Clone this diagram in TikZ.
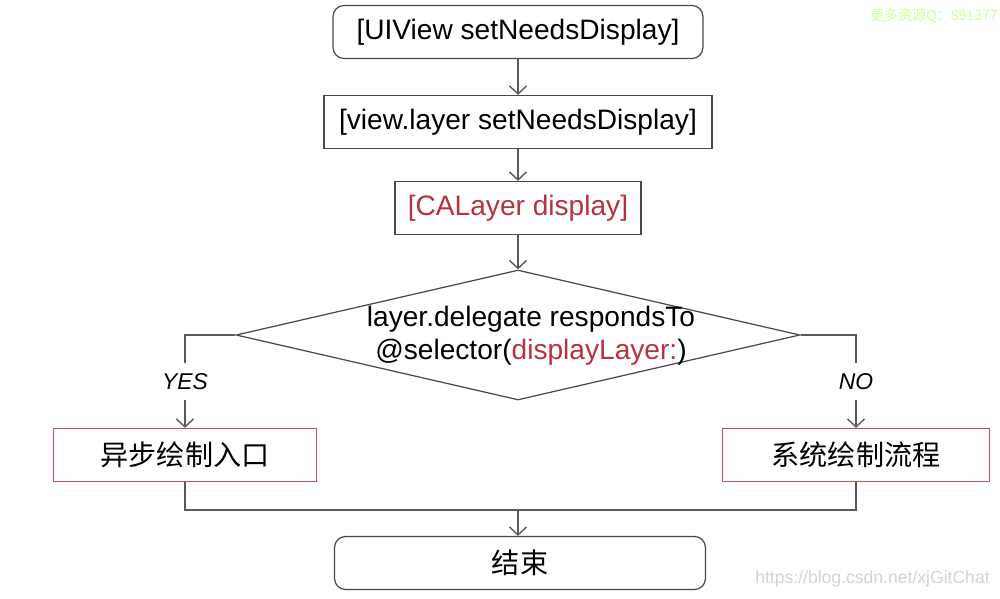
\documentclass[tikz,border=0pt]{standalone}
\usepackage{fontspec}
\setmainfont{Liberation Sans}
\newfontfamily\cjk{Noto Sans CJK SC}
\usetikzlibrary{arrows.meta,shapes.geometric}
\definecolor{ln}{HTML}{5A5A5A}
\definecolor{bd}{HTML}{4A4A4A}
\definecolor{rd}{HTML}{B8323F}
\definecolor{rb}{HTML}{C4505C}
\tikzset{bx/.style={draw=bd, line width=0.7pt, inner sep=0, minimum height=1.06cm, font=\fontsize{16}{18}\selectfont},
  rbx/.style={bx, rounded corners=0.22cm},
  cbx/.style={bx, draw=rb, font=\fontsize{16}{18}\selectfont\cjk},
  dm/.style={draw=bd, line width=0.7pt, diamond, aspect=4.34, inner sep=0, minimum width=11.28cm, minimum height=2.6cm},
  ar/.style={draw=ln, line width=0.8pt, -{Straight Barb[length=1.6mm,width=3.4mm]}},
  lk/.style={draw=ln, line width=0.8pt},
  lb/.style={fill=white, inner sep=0.2cm, font=\fontsize{13}{15}\selectfont\itshape}}

\begin{document}
\begin{tikzpicture}[x=0.02cm, y=-0.02cm]
                \useasboundingbox (0,0) rectangle (1000,598);
                % flow
                \node[rbx, minimum width=7.4cm] (a) at (518,32) {[UIView setNeedsDisplay]};
                \node[bx, minimum width=7.76cm] (b) at (518,122) {[view.layer setNeedsDisplay]};
                \node[bx, minimum width=4.92cm, text=rd] (c) at (518,208) {[CALayer display]};
                \node[dm] (d) at (518,335) {};
                \node[align=center, font=\fontsize{16}{19}\selectfont] (dt) at (531,336) {layer.delegate respondsTo\\ @selector(\textcolor{rd}{displayLayer:})};
                \node[cbx, minimum width=5.26cm] (l) at (185,455) {异步绘制入口};
                \node[cbx, minimum width=5.34cm] (r) at (856,455) {系统绘制流程};
                \node[rbx, minimum width=7.42cm, font=\fontsize{16}{18}\selectfont\cjk] (e) at (520,563) {结束};
                \coordinate (m) at (518,510);
                \path[ar] (a) edge (b) (b) edge (c) (c) edge (d);
                \draw[ar] (d.west) -| node[pos=0.75, lb]{YES} (l.north);
                \draw[ar] (d.east) -| node[pos=0.75, lb]{NO} (r.north);
                \draw[lk] (l.south) |- (m) -| (r.south);
                \draw[ar] (m) -- (m |- e.north);
                % watermarks
                \node[anchor=east, text=green!50!yellow!40!white, font=\fontsize{8}{10}\selectfont\cjk, inner sep=0] (w1) at (998,16) {更多资源Q：891377};
                \node[anchor=east, text=black!17, font=\fontsize{10}{12}\selectfont, inner sep=0] (w2) at (990,579) {https://blog.csdn.net/xjGitChat};
            \end{tikzpicture}
\end{document}
